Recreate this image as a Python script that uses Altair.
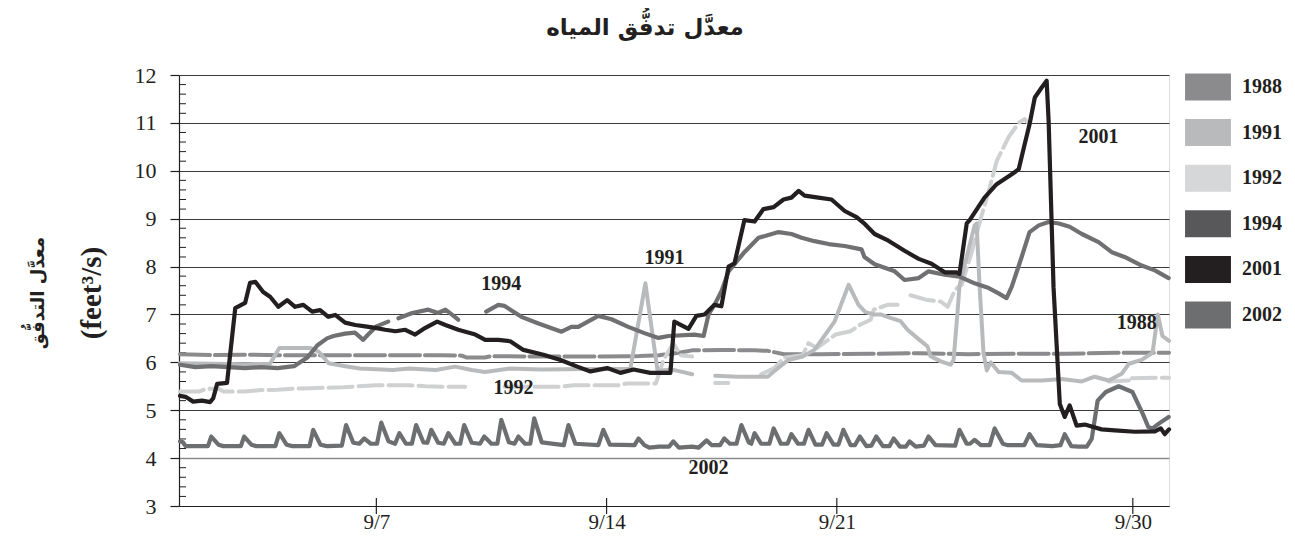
import altair as alt
import pandas as pd

TITLE = "معدَّل تدفُّق المياه"
Y_TITLE_AR = "معدَّل التدفُّق"
Y_TITLE_UNIT = "(feet³/s)"

YEARS = ["1988", "1991", "1992", "1994", "2001", "2002"]
SWATCH_COLORS = ["#8b8b8d", "#b9babc", "#d6d7d8", "#58585a", "#231f20", "#6d6e70"]

Y_TICKS = [3, 4, 5, 6, 7, 8, 9, 10, 11, 12]
X_TICK_DAYS = [7, 14, 21, 30]
X_TICK_LABELS = ["9/7", "9/14", "9/21", "9/30"]

# (day of September, flow) ; None = gap in record
FLOW_1988 = [(1.03, 6.17), (2.0, 6.15), (3.0, 6.16), (4.0, 6.15), (5.0, 6.15), (6.0, 6.15),
             (7.0, 6.15), (8.0, 6.15), (9.0, 6.15), (9.6, 6.14), (9.75, 6.10), (10.3, 6.10),
             (10.5, 6.13), (12.0, 6.12), (13.5, 6.12), (15.0, 6.13), (15.6, 6.15), (16.2, 6.20),
             (16.6, 6.25), (17.5, 6.26), (18.5, 6.25), (18.9, 6.24), (19.4, 6.17), (20.5, 6.17),
             (22.0, 6.18), (23.5, 6.19), (25.0, 6.17), (26.5, 6.18), (28.0, 6.18), (29.5, 6.20),
             (31.1, 6.20)]

FLOW_1991 = [(1.03, 5.98), (2.0, 5.97), (3.0, 5.96), (3.77, 5.97), (4.05, 6.30), (5.0, 6.30),
             (5.25, 6.22), (5.55, 5.98), (6.05, 5.92), (6.5, 5.87), (7.5, 5.84), (8.0, 5.87),
             (8.8, 5.84), (9.4, 5.91), (9.9, 5.84), (10.3, 5.80), (11.07, 5.87), (12.0, 5.85),
             (13.5, 5.86), (14.72, 5.86), (15.18, 7.65), (15.55, 5.82), (15.97, 5.85), (16.3, 5.80),
             (16.6, 5.75), None,
             (17.3, 5.72), (18.0, 5.70), (18.9, 5.70), (19.14, 5.84), (19.53, 6.05), (19.96, 6.12),
             (20.32, 6.26), (20.93, 6.85), (21.36, 7.62), (21.66, 7.20), (21.87, 7.05), (22.12, 7.00),
             (22.33, 7.00), (22.63, 6.93), (22.94, 6.86), (23.15, 6.68), (23.46, 6.50), (23.76, 6.33),
             (23.85, 6.13), (24.16, 6.02), (24.46, 5.95), (24.55, 6.05), (24.67, 7.04), (24.73, 7.60),
             (25.19, 8.86), (25.25, 8.90), (25.34, 7.60), (25.46, 6.20), (25.56, 5.83), (25.68, 6.00),
             (25.92, 5.80), (26.32, 5.78), (26.62, 5.62), (27.23, 5.62), (27.84, 5.65), (28.45, 5.60),
             (28.84, 5.70), (29.27, 5.62), (29.66, 5.76), (29.88, 5.97), (30.27, 6.05), (30.6, 6.20),
             (30.76, 7.00), (30.9, 6.55), (31.1, 6.45)]

FLOW_1992 = [(1.03, 5.39), (1.6, 5.39), (1.85, 5.45), (2.2, 5.45), (2.35, 5.39), (3.0, 5.39),
             (3.5, 5.42), (4.0, 5.43), (4.5, 5.45), (5.0, 5.46), (6.0, 5.48), (7.0, 5.52),
             (8.0, 5.52), (8.5, 5.50), (9.0, 5.49), (9.7, 5.49), None,
             (10.9, 5.49), (12.6, 5.49), (13.0, 5.52), (14.4, 5.52), (14.6, 5.56), (15.5, 5.56),
             (15.73, 6.05), (16.03, 6.40), (16.25, 6.15), (16.6, 6.12), None,
             (17.3, 5.57), (17.7, 5.57), None,
             (18.7, 5.75), (19.1, 5.88), (19.4, 6.10), (19.96, 6.15), (20.14, 6.40), (20.4, 6.30),
             (20.96, 6.58), (21.42, 6.65), (21.72, 6.79), (22.03, 6.89), (22.12, 7.10), (22.54, 7.20),
             (22.85, 7.20), None,
             (23.24, 7.40), (23.76, 7.30), (24.16, 7.27), (24.37, 7.16), (24.6, 7.52), (24.8, 7.62),
             (25.1, 8.30), (25.4, 9.06), (25.65, 9.65), (25.86, 10.20), (26.22, 10.70), (26.53, 11.00),
             (26.71, 11.08), (26.86, 10.97), None,
             (29.27, 5.60), (29.88, 5.62), None,
             (29.97, 5.67), (31.1, 5.68)]

FLOW_1994 = [(1.03, 5.95), (1.5, 5.90), (2.0, 5.92), (2.5, 5.90), (3.0, 5.88), (3.5, 5.90),
             (4.0, 5.88), (4.5, 5.92), (4.9, 6.10), (5.2, 6.35), (5.5, 6.50), (5.7, 6.55),
             (6.05, 6.60), (6.35, 6.62), (6.6, 6.47), (6.75, 6.58), (7.0, 6.75), (7.36, 6.85), None,
             (7.67, 6.92), (8.09, 7.03), (8.58, 7.10), (8.88, 7.03), (9.1, 7.10), (9.31, 6.99),
             (9.49, 6.89), None,
             (10.34, 7.06), (10.71, 7.20), (10.89, 7.18), (11.41, 6.95), (11.93, 6.81), (12.63, 6.64),
             (12.93, 6.74), (13.14, 6.74), (13.75, 6.97), (14.15, 6.90), (14.66, 6.74), (15.15, 6.61),
             (15.58, 6.51), (15.88, 6.55), (16.67, 6.58), (16.95, 6.55), (17.1, 7.00), (17.28, 7.20),
             (17.49, 7.48), (17.71, 7.90), (17.89, 8.05), (18.19, 8.30), (18.62, 8.60), (19.23, 8.72),
             (19.62, 8.68), (19.93, 8.60), (20.32, 8.53), (20.75, 8.47), (21.24, 8.43), (21.75, 8.36),
             (21.84, 8.20), (22.15, 8.05), (22.76, 7.90), (23.06, 7.72), (23.49, 7.76), (23.79, 7.90),
             (24.28, 7.83), (24.73, 7.79), (25.19, 7.65), (25.62, 7.55), (25.92, 7.44), (26.16, 7.34),
             (26.32, 7.58), (26.62, 8.20), (26.86, 8.72), (27.14, 8.86), (27.44, 8.93), (27.75, 8.90),
             (28.08, 8.83), (28.45, 8.68), (28.96, 8.51), (29.36, 8.30), (29.75, 8.20), (30.27, 8.02),
             (30.67, 7.92), (31.09, 7.76)]

FLOW_2001 = [(1.03, 5.30), (1.2, 5.28), (1.43, 5.18), (1.7, 5.20), (1.95, 5.17), (2.04, 5.25),
             (2.16, 5.55), (2.46, 5.57), (2.71, 7.13), (3.01, 7.24), (3.16, 7.66), (3.32, 7.68),
             (3.56, 7.47), (3.77, 7.37), (4.02, 7.16), (4.29, 7.30), (4.53, 7.16), (4.78, 7.20),
             (5.05, 7.06), (5.29, 7.09), (5.54, 6.95), (5.75, 6.99), (6.05, 6.83), (6.36, 6.78),
             (6.66, 6.75), (6.97, 6.72), (7.27, 6.68), (7.58, 6.65), (7.88, 6.68), (8.18, 6.58),
             (8.49, 6.72), (8.85, 6.85), (9.10, 6.78), (9.49, 6.68), (10.01, 6.58), (10.31, 6.47),
             (10.71, 6.47), (11.07, 6.44), (11.47, 6.26), (12.08, 6.16), (12.60, 6.05), (13.11, 5.91),
             (13.51, 5.81), (14.02, 5.88), (14.42, 5.78), (14.82, 5.85), (15.33, 5.78), (15.94, 5.78),
             (16.06, 6.85), (16.49, 6.70), (16.73, 6.97), (16.98, 7.00), (17.28, 7.20), (17.49, 7.17),
             (17.71, 8.00), (17.89, 8.07), (18.19, 8.97), (18.50, 8.94), (18.77, 9.20), (19.08, 9.24),
             (19.38, 9.40), (19.62, 9.44), (19.84, 9.58), (20.02, 9.48), (20.44, 9.44), (20.84, 9.40),
             (21.24, 9.16), (21.60, 9.03), (21.85, 8.89), (22.15, 8.68), (22.57, 8.54), (23.06, 8.33),
             (23.49, 8.16), (23.88, 8.06), (24.28, 7.88), (24.64, 7.88), (24.73, 7.85), (24.95, 8.90),
             (25.04, 8.97), (25.49, 9.44), (25.86, 9.72), (26.32, 9.93), (26.53, 10.03), (26.71, 10.55),
             (26.86, 10.97), (27.02, 11.53), (27.23, 11.74), (27.38, 11.88), (27.44, 11.04), (27.59, 7.56),
             (27.78, 5.13), (27.93, 4.86), (28.08, 5.10), (28.29, 4.68), (28.54, 4.70), (28.80, 4.65),
             (29.05, 4.60), (29.45, 4.58), (30.06, 4.55), (30.67, 4.56), (30.85, 4.62), (30.97, 4.50),
             (31.1, 4.60)]

FLOW_2002 = [(1.03, 4.35), (1.12, 4.33), (1.2, 4.25), (1.88, 4.25), (1.98, 4.45), (2.2, 4.28),
             (2.35, 4.25), (2.88, 4.25), (2.98, 4.45), (3.2, 4.28), (3.35, 4.25), (3.93, 4.25),
             (4.05, 4.52), (4.27, 4.28), (4.45, 4.25), (4.97, 4.25), (5.08, 4.59), (5.3, 4.28),
             (5.5, 4.25), (5.95, 4.26), (6.08, 4.69), (6.3, 4.32), (6.48, 4.30), (6.63, 4.41),
             (6.83, 4.30), (7.02, 4.30), (7.15, 4.74), (7.37, 4.35), (7.57, 4.30), (7.7, 4.52),
             (7.9, 4.30), (8.08, 4.30), (8.21, 4.69), (8.43, 4.33), (8.55, 4.32), (8.67, 4.59),
             (8.88, 4.32), (9.05, 4.30), (9.19, 4.52), (9.4, 4.30), (9.55, 4.30), (9.67, 4.69),
             (9.9, 4.32), (10.15, 4.30), (10.28, 4.45), (10.5, 4.30), (10.68, 4.30), (10.8, 4.80),
             (11.03, 4.33), (11.2, 4.30), (11.32, 4.45), (11.52, 4.30), (11.68, 4.30), (11.8, 4.83),
             (12.03, 4.33), (12.7, 4.27), (12.84, 4.69), (13.05, 4.30), (13.75, 4.27), (13.9, 4.59),
             (14.1, 4.28), (14.85, 4.27), (14.97, 4.41), (15.15, 4.27), (15.3, 4.22), (15.6, 4.24),
             (15.9, 4.24), (16.03, 4.35), (16.2, 4.22), (16.6, 4.24), (16.8, 4.22), (17.04, 4.37),
             (17.2, 4.27), (17.45, 4.27), (17.58, 4.41), (17.75, 4.30), (17.95, 4.30), (18.1, 4.69),
             (18.32, 4.33), (18.4, 4.30), (18.5, 4.52), (18.7, 4.30), (18.95, 4.30), (19.08, 4.62),
             (19.3, 4.30), (19.5, 4.30), (19.62, 4.50), (19.82, 4.30), (20.0, 4.30), (20.14, 4.59),
             (20.35, 4.28), (20.55, 4.28), (20.69, 4.52), (20.9, 4.28), (21.05, 4.28), (21.2, 4.59),
             (21.42, 4.27), (21.55, 4.27), (21.7, 4.45), (21.9, 4.25), (22.05, 4.26), (22.2, 4.45),
             (22.4, 4.25), (22.6, 4.25), (22.73, 4.41), (22.92, 4.24), (23.1, 4.24), (23.21, 4.35),
             (23.4, 4.24), (23.65, 4.26), (23.79, 4.45), (24.0, 4.27), (24.6, 4.26), (24.73, 4.59),
             (24.95, 4.30), (25.05, 4.30), (25.19, 4.38), (25.38, 4.27), (25.65, 4.27), (25.8, 4.62),
             (26.05, 4.30), (26.2, 4.27), (26.7, 4.27), (26.86, 4.50), (27.08, 4.27), (27.55, 4.25),
             (27.8, 4.27), (27.93, 4.50), (28.13, 4.25), (28.35, 4.24), (28.6, 4.24), (28.75, 4.40),
             (28.93, 5.20), (29.18, 5.38), (29.57, 5.50), (29.99, 5.38), (30.3, 4.93), (30.47, 4.65),
             (30.6, 4.62), (30.79, 4.72), (31.09, 4.86)]

SERIES = {"1988": FLOW_1988, "1991": FLOW_1991, "1992": FLOW_1992,
          "1994": FLOW_1994, "2001": FLOW_2001, "2002": FLOW_2002}

LABEL_TEXT = ["1994", "1991", "1992", "2002", "2001", "1988"]
LABEL_DAY = [10.80, 15.76, 11.17, 17.10, 28.96, 30.12]
LABEL_FLOW = [7.63, 8.18, 5.46, 3.79, 10.70, 6.82]

# ---- styles ----
LINE_STYLE = {
    "1988": dict(color="#8b8b8d", strokeWidth=4, strokeDash=[30, 5]),
    "1991": dict(color="#b9babc", strokeWidth=4),
    "1992": dict(color="#cfd0d1", strokeWidth=4, strokeDash=[24, 6]),
    "2002": dict(color="#6d6e70", strokeWidth=4.2),
    "1994": dict(color="#707072", strokeWidth=4.2),
    "2001": dict(color="#231f20", strokeWidth=4.2),
}
DRAW_ORDER = ["1988", "1992", "1991", "2002", "1994", "2001"]

W, H = 990, 431
SERIF = "Liberation Serif"
INK = "#231f20"


def series_frame(year):
    rows, seg = [], 0
    for p in SERIES[year]:
        if p is None:
            seg += 1
            continue
        rows.append({"year": year, "seg": f"{year}-{seg}", "d": p[0], "v": p[1]})
    return pd.DataFrame(rows)


label_expr = " : ".join(f"datum.value == {d} ? '{l}'" for d, l in zip(X_TICK_DAYS, X_TICK_LABELS)) + " : ''"

x_scale = alt.Scale(domain=[1.0, 31.1], nice=False, zero=False)
y_scale = alt.Scale(domain=[3, 12], nice=False, zero=False)

x_axis = alt.Axis(values=X_TICK_DAYS, labelExpr=label_expr, grid=False, tickSize=0,
                  labelPadding=5, labelFont=SERIF, labelFontSize=21, labelColor=INK,
                  domainColor=INK, domainWidth=1.2, title=None)
y_axis = alt.Axis(values=Y_TICKS, grid=True,
                  gridColor={"condition": {"test": "datum.value === 4", "value": "#8b8b8d"}, "value": "#3a3a3a"},
                  gridWidth={"condition": {"test": "datum.value === 4", "value": 1.6}, "value": 1.1},
                  tickSize=9, tickColor=INK, tickWidth=1.2, labelPadding=14, labelFont=SERIF,
                  labelFontSize=22, labelColor=INK, domainColor=INK, domainWidth=1.2, title=None)

X = alt.X("d:Q", scale=x_scale, axis=x_axis)
Y = alt.Y("v:Q", scale=y_scale, axis=y_axis)

minor_df = pd.DataFrame({"v": [round(i * 0.2, 1) for i in range(15, 60) if i % 5 != 0]})
minor = alt.Chart(minor_df).mark_rule(color=INK, strokeWidth=1).encode(
    x=alt.value(0), x2=alt.value(7), y=Y)

xt_df = pd.DataFrame({"d": X_TICK_DAYS})
xticks = alt.Chart(xt_df).mark_rule(color=INK, strokeWidth=1.2).encode(
    x=X, y=alt.value(H - 8), y2=alt.value(H + 8))

lines = []
for yr in DRAW_ORDER:
    st = LINE_STYLE[yr]
    lines.append(
        alt.Chart(series_frame(yr)).mark_line(strokeCap="round", strokeJoin="round", **st).encode(
            x=X, y=Y, detail="seg:N", order="d:Q")
    )

lbl_df = pd.DataFrame({"t": LABEL_TEXT, "d": LABEL_DAY, "v": LABEL_FLOW})
labels = alt.Chart(lbl_df).mark_text(font=SERIF, fontWeight="bold", fontSize=20, color=INK).encode(
    x=X, y=Y, text="t:N")

main = alt.layer(minor, xticks, *lines, labels)

leg_df = pd.DataFrame({"year": YEARS})
leg_y = alt.Y("year:N", scale=alt.Scale(type="point", domain=YEARS, range=[12, 240], padding=0), axis=None)
RECT = "M-1.7,-1H1.7V1H-1.7Z"
swatches = alt.Chart(leg_df).mark_point(shape=RECT, size=729, filled=True, opacity=1, strokeWidth=0).encode(
    x=alt.value(1029), y=leg_y,
    color=alt.Color("year:N", scale=alt.Scale(domain=YEARS, range=SWATCH_COLORS), legend=None))
leg_text = alt.Chart(leg_df).mark_text(align="left", baseline="middle", font=SERIF, fontWeight="bold",
                                       fontSize=20, color=INK).encode(x=alt.value(1063), y=leg_y, text="year:N")
legend = alt.layer(swatches, leg_text)

yt_ar = alt.Chart(pd.DataFrame({"t": [Y_TITLE_AR]})).mark_text(
    angle=270, font="DejaVu Sans", fontWeight="bold", fontSize=18, color=INK).encode(
    x=alt.value(-140), y=alt.value(218), text="t:N")
yt_unit = alt.Chart(pd.DataFrame({"t": [Y_TITLE_UNIT]})).mark_text(
    angle=270, font=SERIF, fontWeight="bold", fontSize=29, color=INK).encode(
    x=alt.value(-87), y=alt.value(218), text="t:N")

chart = alt.layer(main, legend, yt_ar, yt_unit).resolve_scale(y="independent", color="independent").properties(
    width=W, height=H,
    autosize=alt.AutoSizeParams(type="none"),
    padding={"left": 171, "top": 67, "right": 118, "bottom": 30},
    title=alt.TitleParams(TITLE, font="DejaVu Sans", fontSize=23, fontWeight="bold", color=INK,
                          anchor="middle", frame="group", dx=-29, offset=24),
).configure_view(stroke=None).configure(background="white")

chart.save("out.html", embed_options={"renderer": "svg", "actions": False})
